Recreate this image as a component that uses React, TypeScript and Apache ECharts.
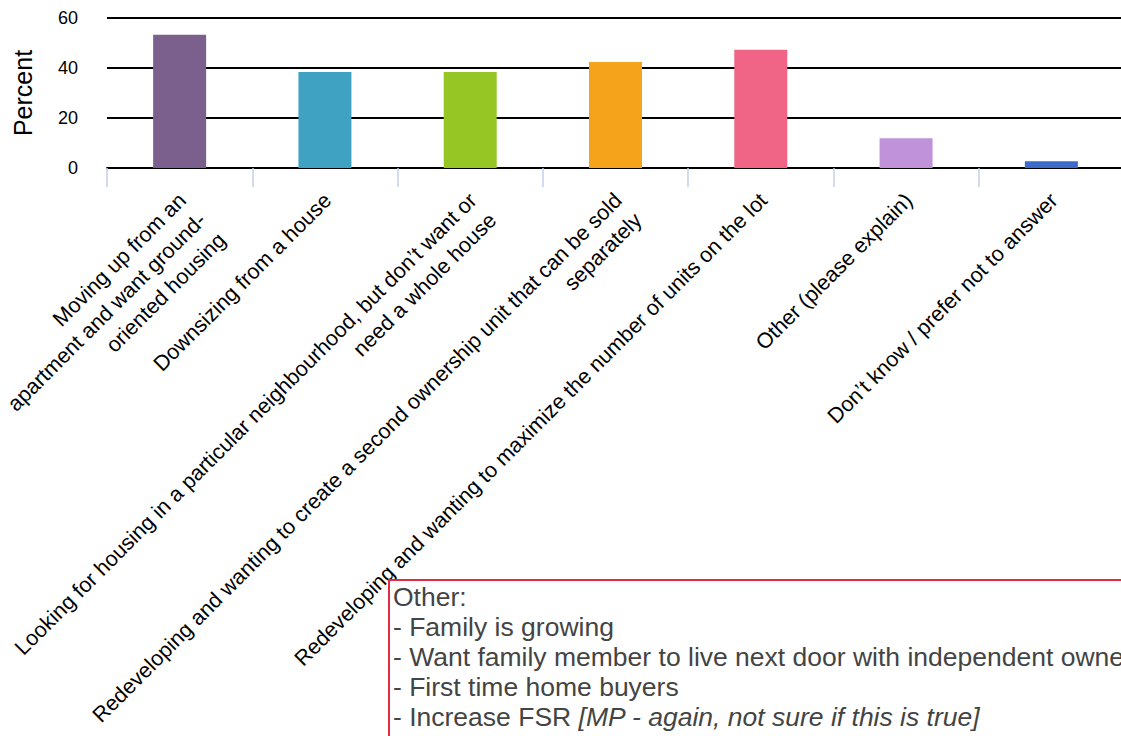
import React, { useEffect, useRef } from "react";
import * as echarts from "echarts";

const categories = [
  "Moving up from an\napartment and want ground-\noriented housing",
  "Downsizing from a house",
  "Looking for housing in a particular neighbourhood, but don\u2019t want or\nneed a whole house",
  "Redeveloping and wanting to create a second ownership unit that can be sold\nseparately",
  "Redeveloping and wanting to maximize the number of units on the lot",
  "Other (please explain)",
  "Don\u2019t know / prefer not to answer",
];
const percentValues = [53.3, 38.4, 38.4, 42.4, 47.3, 11.9, 2.7];
const barColors = ["#7b5f8c", "#40a2c2", "#95c623", "#f4a31a", "#f06585", "#c092d9", "#3b6cc9"];
const yTicks = { min: 0, max: 60, interval: 20 };
const noteTitle = "Other:";
const noteLines = [
  "- Family is growing",
  "- Want family member to live next door with independent ownership",
  "- First time home buyers",
];
const noteLastPlain = "- Increase FSR ";
const noteLastItalic = "[MP - again, not sure if this is true]";

const FONT = "'Liberation Sans', Arial, sans-serif";

export default function App() {
  const ref = useRef<HTMLDivElement>(null);
  useEffect(() => {
    document.body.style.margin = "0";
    if (!ref.current) return;
    const chart = echarts.init(ref.current, undefined, { renderer: "svg" });
    const textX = 393;
    const lineY0 = 597;
    const lh = 30;
    const fs = 26.5;
    const allLines = [noteTitle, ...noteLines];
    const textEls: any[] = allLines.map((t, i) => ({
      type: "text",
      x: textX,
      y: lineY0 + i * lh,
      z: 11,
      style: {
        text: t,
        fill: "#444",
        font: `${fs}px ${FONT}`,
        verticalAlign: "middle",
        align: "left",
      },
    }));
    textEls.push({
      type: "text",
      x: textX,
      y: lineY0 + allLines.length * lh,
      z: 11,
      style: {
        text: `{p|${noteLastPlain}}{i|${noteLastItalic}}`,
        verticalAlign: "middle",
        align: "left",
        rich: {
          p: { fill: "#444", fontSize: fs, fontFamily: FONT },
          i: { fill: "#444", fontSize: fs, fontFamily: FONT, fontStyle: "italic" },
        },
      },
    });
    chart.setOption({
      animation: false,
      grid: { left: 107, top: 18, height: 150, width: 1017, outerBoundsMode: "none", containLabel: false },
      xAxis: {
        type: "category",
        data: categories,
        axisLine: { show: true, lineStyle: { color: "#000", width: 2 } },
        axisTick: {
          show: true,
          alignWithLabel: false,
          length: 19,
          lineStyle: { color: "#c5d0ea", width: 1.5 },
        },
        axisLabel: {
          interval: 0,
          rotate: 45,
          margin: 12,
          verticalAlign: "top",
          padding: [0, 10, 0, 0],
          color: "#000",
          fontSize: 21.5,
          fontFamily: FONT,
          lineHeight: 28,
        },
      },
      yAxis: {
        type: "value",
        min: yTicks.min,
        max: yTicks.max,
        interval: yTicks.interval,
        name: "Percent",
        nameLocation: "middle",
        nameRotate: 90,
        nameGap: 72,
        nameTextStyle: { fontSize: 25, color: "#000", fontFamily: FONT },
        axisLine: { show: false },
        axisTick: { show: false },
        axisLabel: { margin: 29, fontSize: 18, color: "#000", fontFamily: FONT },
        splitLine: { lineStyle: { color: "#000", width: 2 } },
      },
      series: [
        {
          type: "bar",
          barWidth: 53,
          data: percentValues.map((v, i) => ({ value: v, itemStyle: { color: barColors[i] } })),
        },
      ],
      graphic: [
        {
          type: "rect",
          z: 10,
          shape: { x: 389, y: 580, width: 800, height: 200 },
          style: { fill: "#fff", stroke: "#e22a46", lineWidth: 2 },
        },
        ...textEls,
      ],
    });
    return () => chart.dispose();
  }, []);
  return <div ref={ref} style={{ width: 1121, height: 736 }} />;
}
